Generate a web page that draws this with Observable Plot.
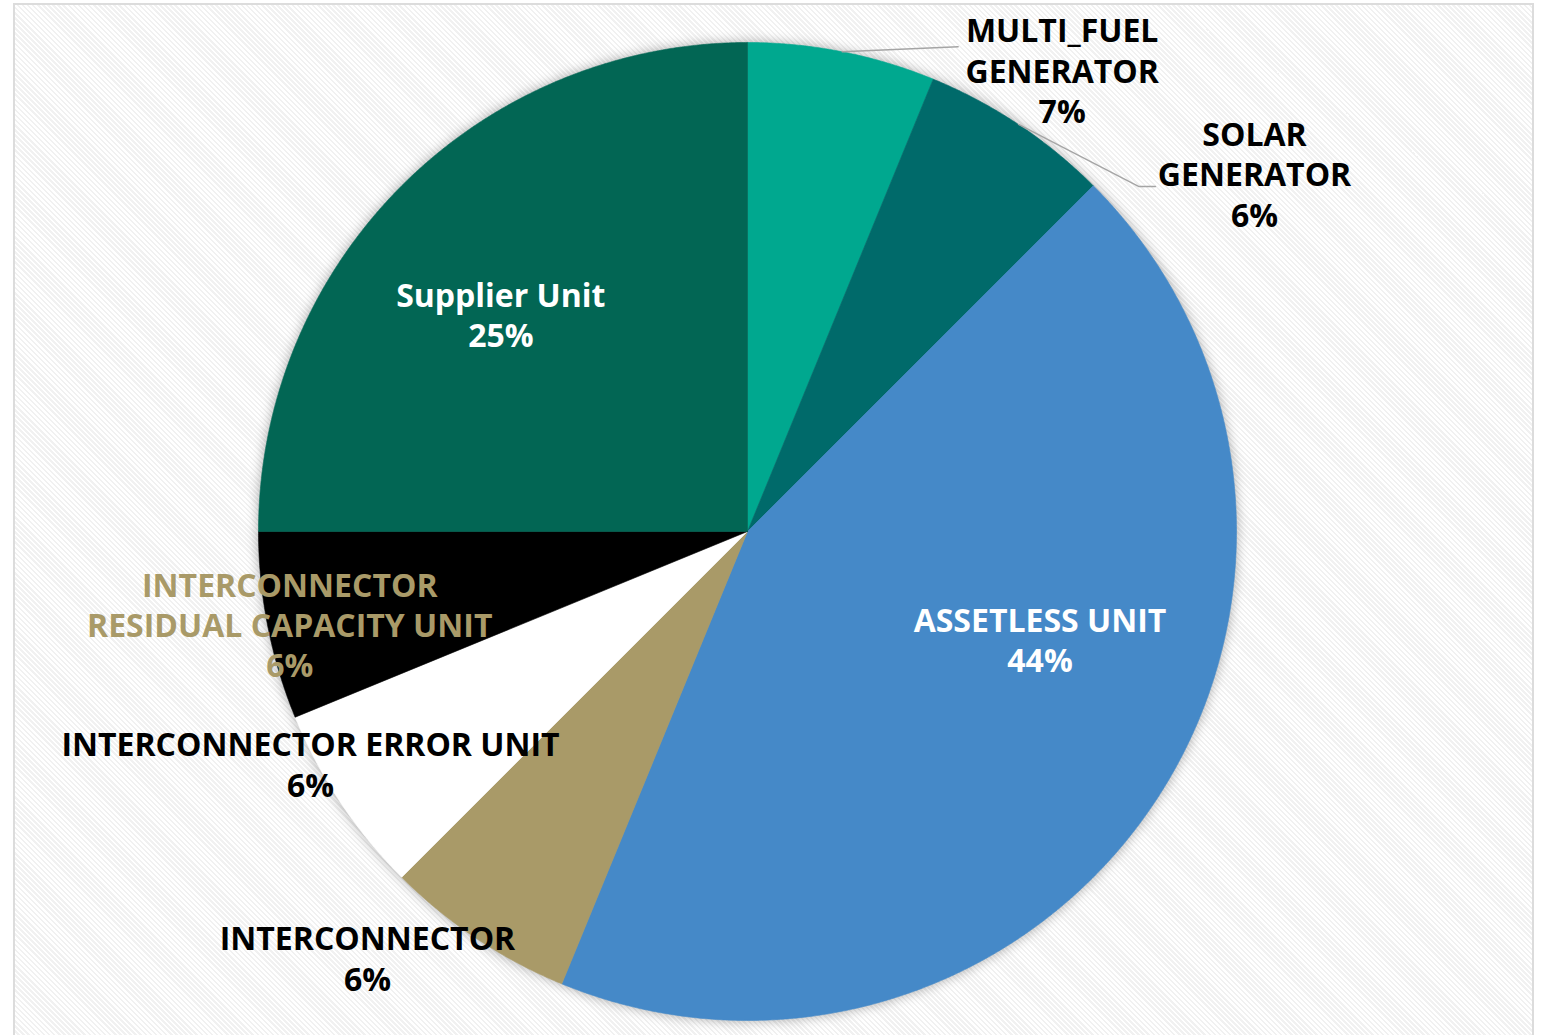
<!DOCTYPE html>
<html>
<head>
<meta charset="utf-8">
<script src="https://cdn.jsdelivr.net/npm/d3@7"></script>
<script src="https://cdn.jsdelivr.net/npm/@observablehq/plot@0.6"></script>
<style>
  html, body { margin: 0; padding: 0; width: 1542px; height: 1035px; overflow: hidden; background: #ffffff; }
  #frame {
    position: absolute; left: 13px; top: 3px; width: 1517px; height: 1040px;
    border: 2px solid #dcdcdc;
    background: repeating-linear-gradient(45deg, #ffffff 0px, #ffffff 1.8px, #f1f1f1 1.8px, #f1f1f1 3.6px);
  }
  #chart { position: absolute; left: 0; top: 0; }
</style>
</head>
<body>
<div id="frame"></div>
<div id="chart"></div>
<script>
// ---- data ----
const categories = [
  "MULTI_FUEL GENERATOR",
  "SOLAR GENERATOR",
  "ASSETLESS UNIT",
  "INTERCONNECTOR",
  "INTERCONNECTOR ERROR UNIT",
  "INTERCONNECTOR RESIDUAL CAPACITY UNIT",
  "Supplier Unit"
];
const values = [6.2, 6.3, 43.7, 6.3, 6.3, 6.2, 25.0];
const pctLabels = ["7%", "6%", "44%", "6%", "6%", "6%", "25%"];
const labelNames = [
  "MULTI_FUEL\nGENERATOR",
  "SOLAR\nGENERATOR",
  "ASSETLESS UNIT",
  "INTERCONNECTOR",
  "INTERCONNECTOR ERROR UNIT",
  "INTERCONNECTOR\nRESIDUAL CAPACITY UNIT",
  "Supplier Unit"
];

// ---- styles / layout ----
const sliceColors = ["#00a88f", "#006a6a", "#4589c8", "#a99a68", "#ffffff", "#000000", "#026654"];
const labelColors = ["#000000", "#000000", "#ffffff", "#000000", "#000000", "#a99a68", "#ffffff"];
const W = 1542, H = 1035;
const CX = 747, CY = 531, RPX = 489;           // pie centre & radius in pixels
// label anchor: mid-angle point at r * radius, nudged by dx/dy pixels
const labelLayout = [
  {r: 1.0, dx: 220, dy: 18},
  {r: 1.0, dx: 236, dy: 49},
  {r: 0.64, dx: 32, dy: -66},
  {r: 1.0, dx: -109, dy: 19},
  {r: 1.0, dx: -30, dy: -39},
  {r: 1.0, dx: 22, dy: -2},
  {r: 0.67, dx: -15, dy: 14}
];
// leader lines (pixel offsets from slice mid-angle edge point)
const leaderLayout = [
  {slice: 0, pts: [[0, 0], [116, -5]]},
  {slice: 1, pts: [[0, 0], [120, 62], [137, 62]]}
];

// ---- geometry ----
const total = d3.sum(values);
const cum = [0];
values.forEach(v => cum.push(cum[cum.length - 1] + v));
const ang = v => v / total * 2 * Math.PI;

const slicePts = [];
values.forEach((v, i) => {
  const a0 = ang(cum[i]), a1 = ang(cum[i + 1]);
  const n = Math.max(4, Math.ceil((a1 - a0) / (Math.PI / 720)));
  slicePts.push({k: i, x: 0, y: 0});
  for (let j = 0; j <= n; j++) {
    const t = a0 + (a1 - a0) * j / n;
    slicePts.push({k: i, x: Math.sin(t), y: Math.cos(t)});
  }
  slicePts.push({k: i, x: 0, y: 0});
});

const mid = i => (ang(cum[i]) + ang(cum[i + 1])) / 2;

const labels = values.map((v, i) => {
  const m = mid(i), L = labelLayout[i];
  return {
    x: L.r * Math.sin(m) + L.dx / RPX,
    y: L.r * Math.cos(m) - L.dy / RPX,
    text: labelNames[i] + "\n" + pctLabels[i],
    color: labelColors[i]
  };
});

const leaderPts = [];
leaderLayout.forEach((ld, j) => {
  const m = mid(ld.slice);
  const ex = Math.sin(m), ey = Math.cos(m);
  ld.pts.forEach(([dx, dy]) => leaderPts.push({k: j, x: ex + dx / RPX, y: ey - dy / RPX}));
});

const plot = Plot.plot({
  width: W,
  height: H,
  margin: 0,
  style: {background: "transparent", overflow: "visible"},
  x: {domain: [(0 - CX) / RPX, (W - CX) / RPX], axis: null},
  y: {domain: [(CY - H) / RPX, CY / RPX], axis: null},
  color: {type: "identity"},
  marks: [
    Plot.line(slicePts, {
      x: "x", y: "y", z: "k",
      fill: d => sliceColors[d.k],
      stroke: d => sliceColors[d.k],
      strokeWidth: 0.6,
      curve: "linear"
    }),
    Plot.line(leaderPts, {x: "x", y: "y", z: "k", stroke: "#a5a5a5", strokeWidth: 1.4}),
    Plot.text(labels, {
      x: "x", y: "y", text: "text", fill: "color",
      fontSize: 32, fontWeight: 700, lineHeight: 1.26,
      fontFamily: "'Open Sans', sans-serif"
    })
  ]
});
document.getElementById("chart").appendChild(plot);
d3.select(plot).select('g[aria-label="line"]')
  .style("filter", "drop-shadow(0px 0px 6px rgba(0,0,0,0.32))");
</script>
</body>
</html>
